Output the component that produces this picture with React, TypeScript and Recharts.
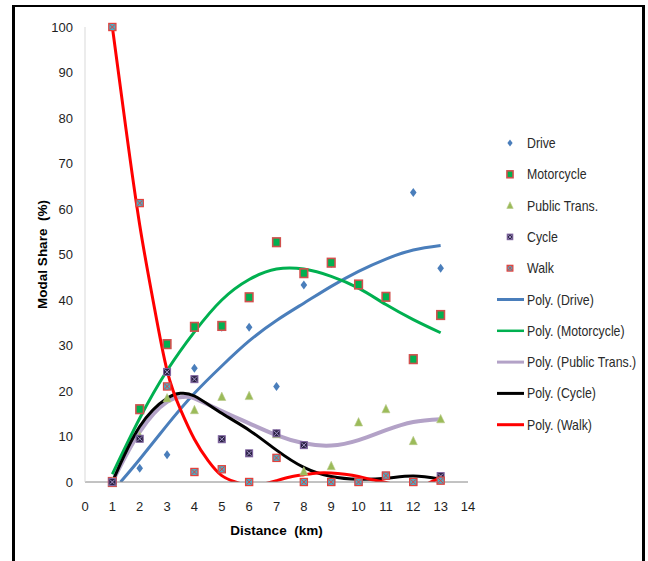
import { ComposedChart, Scatter, Line, XAxis, YAxis } from "recharts";

// observed modal share (%) by distance band
const distance = [1, 2, 3, 4, 5, 6, 7, 8, 9, 10, 11, 12, 13];
const drive = [0, 3, 6, 25, 34, 34, 21, 43.3, 48, 43.3, 40.7, 63.6, 47];
const motorcycle = [0, 16, 30.3, 34.1, 34.3, 40.6, 52.7, 45.9, 48.2, 43.4, 40.7, 27, 36.7];
const publicTrans = [0, 10, 18.4, 15.8, 18.7, 18.9, 10.5, 2.3, 3.5, 13.1, 16, 9, 13.8];
const cycle = [0, 9.5, 24.2, 22.6, 9.4, 6.3, 10.7, 8.1, 0, 0, 1.4, 0, 1.3];
const walk = [100, 61.3, 21, 2.2, 2.8, 0, 5.3, 0, 0, 0, 1.4, 0, 0.3];

// polynomial trendlines
const driveFitX = [1.3, 2, 3, 4, 5, 6, 7, 8, 9, 10, 11, 12, 13];
const driveFitY = [0, 5, 12.5, 19.5, 25.5, 31, 35.5, 39.3, 43, 46.3, 49, 51, 52];
const motoFitX = [1, 2, 3, 4, 5, 6, 7, 8, 9, 10, 11, 12, 13];
const motoFitY = [1.7, 14, 24.5, 33, 40, 44.5, 46.8, 46.8, 45.2, 42.6, 39, 35.7, 32.8];
const ptFitX = [1, 2, 3, 3.6, 4, 5, 6, 7, 8, 9, 10, 11, 12, 13];
const ptFitY = [0, 11, 17.6, 18.7, 18.4, 15.6, 12.9, 10.3, 8.5, 8, 9.2, 11.4, 13.2, 13.8];
const cycleFitX = [1, 2, 3, 3.5, 4, 5, 6, 7, 8, 9, 10, 11, 12, 13];
const cycleFitY = [0, 12.2, 18.4, 19.5, 18.9, 15.1, 11.4, 7, 3.2, 1.2, 0.6, 0.8, 1.3, 0.6];
const walkFitX = [1, 1.5, 2, 2.5, 3, 3.5, 4, 4.5, 5, 5.5, 6, 6.5, 7, 7.5, 8, 8.5, 9, 9.5, 10, 10.5, 11, 11.5, 12, 12.5, 13];
const walkFitY = [100, 77.5, 56.5, 39.5, 24.5, 15.8, 9.4, 4.7, 1.4, 0, -0.8, -0.5, 0.3, 1.1, 1.6, 2, 2, 1.7, 1.2, 0.5, -0.1, -0.8, -1, -0.4, 1];

const xTicks = [0, 1, 2, 3, 4, 5, 6, 7, 8, 9, 10, 11, 12, 13, 14];
const yTicks = [0, 10, 20, 30, 40, 50, 60, 70, 80, 90, 100];

const FONT = '"Liberation Sans", Arial, sans-serif';
const TEXT = "#1e1e1e";

const pts = (ys: number[]) => distance.map((x, i) => ({ x, y: ys[i] }));
const fit = (xs: number[], ys: number[]) => xs.map((x, i) => ({ x, y: ys[i] }));

type M = { cx: number; cy: number; s?: number };

const DriveMark = ({ cx, cy, s = 1 }: M) => (
  <path
    d={`M${cx},${cy - 4.5 * s}L${cx + 3.3 * s},${cy}L${cx},${cy + 4.5 * s}L${cx - 3.3 * s},${cy}Z`}
    fill="#4a7ebb"
  />
);
const MotoMark = ({ cx, cy, s = 1 }: M) => (
  <rect x={cx - 3.8 * s} y={cy - 4.3 * s} width={7.6 * s} height={8.6 * s} fill="#00b050" stroke="#d0504d" strokeWidth={1.6} />
);
const PtMark = ({ cx, cy, s = 1 }: M) => (
  <path
    d={`M${cx},${cy - 4.8 * s}L${cx + 4 * s},${cy + 3.6 * s}L${cx - 4 * s},${cy + 3.6 * s}Z`}
    fill="#9bbb59"
    stroke="#b8c98a"
    strokeWidth={0.6}
  />
);
const CycleMark = ({ cx, cy, s = 1 }: M) => {
  const h = 3.5 * s;
  return (
    <g>
      <rect x={cx - h} y={cy - h} width={2 * h} height={2 * h} fill="#2b2244" stroke="#8064a2" strokeWidth={1} />
      <path d={`M${cx - h + 1},${cy - h + 1}L${cx + h - 1},${cy + h - 1}M${cx + h - 1},${cy - h + 1}L${cx - h + 1},${cy + h - 1}`} stroke="#a596c8" strokeWidth={1} />
    </g>
  );
};
const WalkMark = ({ cx, cy, s = 1 }: M) => {
  const h = 3.6 * s;
  return (
    <g>
      <rect x={cx - h} y={cy - h} width={2 * h} height={2 * h} fill="#4bacc6" stroke="#e2403b" strokeWidth={1.2} />
      <path d={`M${cx - h + 1},${cy - h + 1}L${cx + h - 1},${cy + h - 1}M${cx + h - 1},${cy - h + 1}L${cx - h + 1},${cy + h - 1}`} stroke="#e2403b" strokeWidth={1} />
    </g>
  );
};

const legendItems: { label: string; mark?: (p: M) => JSX.Element; line?: string; w?: number }[] = [
  { label: "Drive", mark: DriveMark },
  { label: "Motorcycle", mark: MotoMark },
  { label: "Public Trans.", mark: PtMark },
  { label: "Cycle", mark: CycleMark },
  { label: "Walk", mark: WalkMark },
  { label: "Poly. (Drive)", line: "#4a7ebb", w: 3 },
  { label: "Poly. (Motorcycle)", line: "#00b050", w: 2.5 },
  { label: "Poly. (Public Trans.)", line: "#b3a2c7", w: 3 },
  { label: "Poly. (Cycle)", line: "#000000", w: 3 },
  { label: "Poly. (Walk)", line: "#ff0000", w: 3 },
];

function ChartLegend() {
  return (
    <svg width={150} height={320} style={{ position: "absolute", left: 490, top: 127 }}>
      {legendItems.map((it, i) => {
        const y = 16 + i * 31.3;
        return (
          <g key={it.label}>
            {it.mark ? it.mark({ cx: 20, cy: y, s: 0.8 }) : null}
            {it.line ? <line x1={7} x2={34} y1={y} y2={y} stroke={it.line} strokeWidth={it.w} /> : null}
            <text
              transform={`translate(37,${y + 5}) scale(0.88,1)`}
              fontFamily={FONT}
              fontSize={14}
              fill="#2a2a2a"
            >
              {it.label}
            </text>
          </g>
        );
      })}
    </svg>
  );
}

export default function App() {
  const tick = { fill: TEXT, fontSize: 13, fontFamily: FONT };
  return (
    <div style={{ position: "absolute", left: 0, top: 0, width: 648, height: 561, background: "#fff", overflow: "hidden" }}>
      <div
        style={{
          position: "absolute",
          left: 12,
          top: 5,
          width: 627,
          height: 570,
          borderTop: "2.5px solid #000",
          borderLeft: "3px solid #000",
          borderRight: "3px solid #000",
        }}
      />
      <div style={{ position: "absolute", left: 0, top: 0 }}>
        <ComposedChart width={648} height={561} margin={{ top: 27, right: 180, bottom: 44, left: 25 }}>
          <XAxis
            type="number"
            dataKey="x"
            domain={[0, 14]}
            ticks={xTicks}
            tick={tick}
            tickLine={false}
            tickSize={6}
            tickMargin={14}
            height={35}
            stroke="#868686"
            label={{
              value: "Distance \u00a0(km)",
              position: "insideBottom",
              offset: -18,
              style: { fontFamily: FONT, fontWeight: 700, fontSize: 13.5, fill: "#000" },
            }}
          />
          <YAxis
            yAxisId="fit"
            type="number"
            dataKey="y"
            domain={[0, 100]}
            ticks={yTicks}
            allowDataOverflow
            tick={tick}
            tickLine={false}
            tickSize={6}
            tickMargin={6}
            width={60}
            stroke="#d9d9d9"
            label={{
              value: "Modal Share \u00a0(%)",
              angle: -90,
              position: "insideLeft",
              offset: 17,
              style: { fontFamily: FONT, fontWeight: 700, fontSize: 13.5, fill: "#000", textAnchor: "middle" },
            }}
          />
          <YAxis yAxisId="pts" type="number" dataKey="y" domain={[0, 100]} hide />

          <Scatter yAxisId="pts" name="Drive" data={pts(drive)} shape={(p: any) => <DriveMark cx={p.cx} cy={p.cy} />} isAnimationActive={false} />
          <Scatter yAxisId="pts" name="Motorcycle" data={pts(motorcycle)} shape={(p: any) => <MotoMark cx={p.cx} cy={p.cy} />} isAnimationActive={false} />
          <Scatter yAxisId="pts" name="Public Trans." data={pts(publicTrans)} shape={(p: any) => <PtMark cx={p.cx} cy={p.cy} />} isAnimationActive={false} />
          <Scatter yAxisId="pts" name="Cycle" data={pts(cycle)} shape={(p: any) => <CycleMark cx={p.cx} cy={p.cy} />} isAnimationActive={false} />
          <Scatter yAxisId="pts" name="Walk" data={pts(walk)} shape={(p: any) => <WalkMark cx={p.cx} cy={p.cy} />} isAnimationActive={false} />

          <Line yAxisId="fit" data={fit(driveFitX, driveFitY)} dataKey="y" type="natural" stroke="#4a7ebb" strokeWidth={3} dot={false} activeDot={false} isAnimationActive={false} />
          <Line yAxisId="fit" data={fit(motoFitX, motoFitY)} dataKey="y" type="natural" stroke="#00b050" strokeWidth={3} dot={false} activeDot={false} isAnimationActive={false} />
          <Line yAxisId="fit" data={fit(ptFitX, ptFitY)} dataKey="y" type="natural" stroke="#b3a2c7" strokeWidth={4} dot={false} activeDot={false} isAnimationActive={false} />
          <Line yAxisId="fit" data={fit(cycleFitX, cycleFitY)} dataKey="y" type="natural" stroke="#000000" strokeWidth={3} dot={false} activeDot={false} isAnimationActive={false} />
          <Line yAxisId="fit" data={fit(walkFitX, walkFitY)} dataKey="y" type="natural" stroke="#ff0000" strokeWidth={3} dot={false} activeDot={false} isAnimationActive={false} />
        </ComposedChart>
      </div>
      <ChartLegend />
    </div>
  );
}
